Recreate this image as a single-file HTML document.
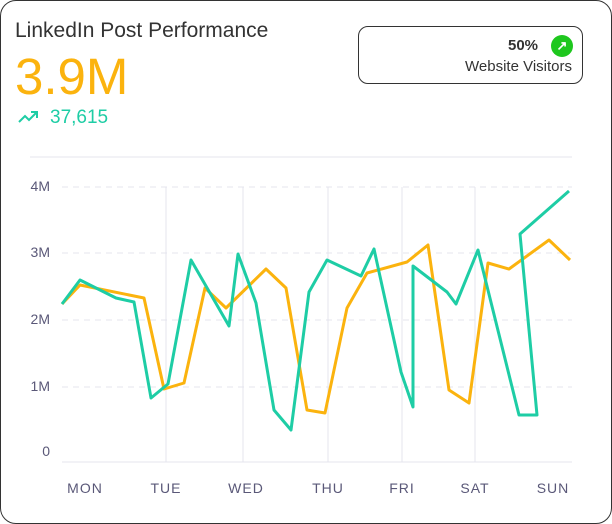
<!DOCTYPE html>
<html><head><style>
body{margin:0;background:#fff;font-family:"Liberation Sans",sans-serif;}
.card{position:absolute;left:0;top:0;width:610px;height:522px;border:1px solid #333;border-radius:16px;background:#fff;}
</style></head><body>
<div class="card"></div>
<div style="position:absolute;left:15px;top:19px;font-size:21px;color:#333">LinkedIn Post Performance</div>
<div style="position:absolute;left:15px;top:47px;font-size:51px;color:#fbb30e">3.9M</div>
<div style="position:absolute;left:50px;top:107px;font-size:19px;color:#1ecda5">37,615</div>
<svg style="position:absolute;left:18px;top:110px" width="22" height="14"><polyline points="1,12 7,6 11,10 19,2" fill="none" stroke="#1ecda5" stroke-width="2"/><polyline points="13,2 19,2 19,8" fill="none" stroke="#1ecda5" stroke-width="2"/></svg>
<div style="position:absolute;left:358px;top:26px;width:223px;height:56px;border:1px solid #333;border-radius:10px"></div>
<div style="position:absolute;left:508px;top:37px;font-size:15px;font-weight:bold;color:#333">50%</div>
<div style="position:absolute;left:551px;top:35px;width:22px;height:22px;border-radius:50%;background:#1ec71e;color:#fff;font-size:13px;text-align:center;line-height:22px;font-weight:bold">↗</div>
<div style="position:absolute;left:465px;top:58px;font-size:15px;color:#333">Website Visitors</div>
<svg style="position:absolute;left:0;top:0" width="612" height="524">
<line x1="30" y1="157" x2="572" y2="157" stroke="#e4e4ee"/>
<g stroke="#e4e4ee" stroke-dasharray="6,5"><line x1="62" y1="187" x2="572" y2="187"/><line x1="62" y1="253" x2="572" y2="253"/><line x1="62" y1="320" x2="572" y2="320"/><line x1="62" y1="387" x2="572" y2="387"/></g>
<g stroke="#e4e4ee"><line x1="166" y1="187" x2="166" y2="462"/><line x1="243" y1="187" x2="243" y2="462"/><line x1="328" y1="187" x2="328" y2="462"/><line x1="402" y1="187" x2="402" y2="462"/><line x1="475" y1="187" x2="475" y2="462"/><line x1="62" y1="462" x2="572" y2="462"/></g>
<g font-size="14" fill="#5a5878" text-anchor="end"><text x="50" y="191">4M</text><text x="50" y="257">3M</text><text x="50" y="324">2M</text><text x="50" y="391">1M</text><text x="50" y="456">0</text></g>
<g font-size="14" fill="#5a5878" text-anchor="middle" letter-spacing="1"><text x="85" y="493">MON</text><text x="166" y="493">TUE</text><text x="246" y="493">WED</text><text x="328" y="493">THU</text><text x="402" y="493">FRI</text><text x="475" y="493">SAT</text><text x="553" y="493">SUN</text></g>
<polyline fill="none" stroke="#fbb30e" stroke-width="3" stroke-linejoin="round" points="62,304 80,285 144,298 164,389 184,383 205,288 226,308 266,269 286,288 307,410 325,413 347,308 367,273 407,262 428,245 449,390 469,403 488,263 509,269 549,240 570,260"/>
<polyline fill="none" stroke="#1ecda5" stroke-width="3" stroke-linejoin="round" points="62,304 80,280 116,298 134,302 151,398 168,384 191,260 229,326 238,254 256,303 274,410 291,430 309,292 327,260 361,276 374,249 401,372 413,407 413,266 447,292 456,304 478,250 519,415 537,415 520,234 569,191"/>
</svg>
</body></html>
